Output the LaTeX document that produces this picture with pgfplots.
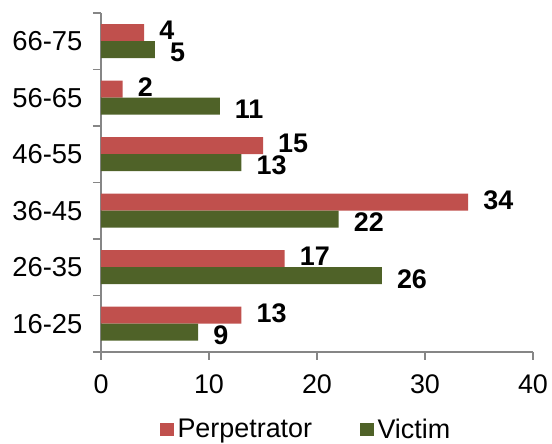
\documentclass[border=0pt]{standalone}
\usepackage{fontspec}
\setmainfont{Liberation Sans}
\usepackage{pgfplots}
\pgfplotsset{compat=1.18}
\definecolor{perp}{HTML}{C0504D}
\definecolor{vict}{HTML}{4F6228}
\definecolor{axgray}{HTML}{868686}
\begin{document}
\begin{tikzpicture}
\begin{axis}[
  name=ax,
  scale only axis,
  width=432bp, height=339bp,
  xbar,
  xmin=0, xmax=40,
  ymin=-0.5, ymax=5.5,
  xtick={0,10,20,30,40},
  ytick={0,1,2,3,4,5},
  yticklabels={16-25,26-35,36-45,46-55,56-65,66-75},
  minor ytick={-0.5,0.5,1.5,2.5,3.5,4.5,5.5},
  major y tick style={draw=none},
  tick align=outside,
  major tick length=8bp,
  minor tick length=8bp,
  axis lines*=left,
  axis line style={axgray, line width=1.2bp},
  every tick/.style={axgray, line width=1.2bp},
  minor y tick style={axgray, line width=1.2bp},
  major x tick style={axgray, line width=1.2bp},
  x tick label style={font=\fontsize{27}{30}\selectfont, yshift=-11bp},
  y tick label style={font=\fontsize{27.5}{30}\selectfont, xshift=-7bp},
  /pgf/number format/assume math mode=true,
  bar width=17bp,
  nodes near coords,
  every node near coord/.append style={font=\bfseries\fontsize{27}{30}\selectfont,
    anchor=west, inner sep=0pt, xshift=15bp, black},
  legend style={draw=none, at={(0.475,-0.185)}, anchor=north, legend columns=2,
    font=\fontsize{27}{30}\selectfont,
    /tikz/every odd column/.append style={column sep=2bp},
    /tikz/every even column/.append style={column sep=46bp}},
  legend image code/.code={\fill[#1] (0bp,-6.7bp) rectangle (13.4bp,6.7bp);},
  clip=false,
]
\addplot[fill=perp, draw=none, bar shift=8.5bp,
  every node near coord/.append style={yshift=2bp}] coordinates {
  (13,0) (17,1) (34,2) (15,3) (2,4) (4,5)
};
\addplot[fill=vict, draw=none, bar shift=-8.5bp,
  every node near coord/.append style={yshift=-3bp}] coordinates {
  (9,0) (26,1) (22,2) (13,3) (11,4) (5,5)
};
\legend{Perpetrator, Victim}
\end{axis}
\path (ax.south west) ++(-101bp,-91bp) coordinate (bl);
\path (ax.north east) ++(19bp,13bp) coordinate (tr);
\path[draw=none] (bl) rectangle (tr);
\end{tikzpicture}
\end{document}
